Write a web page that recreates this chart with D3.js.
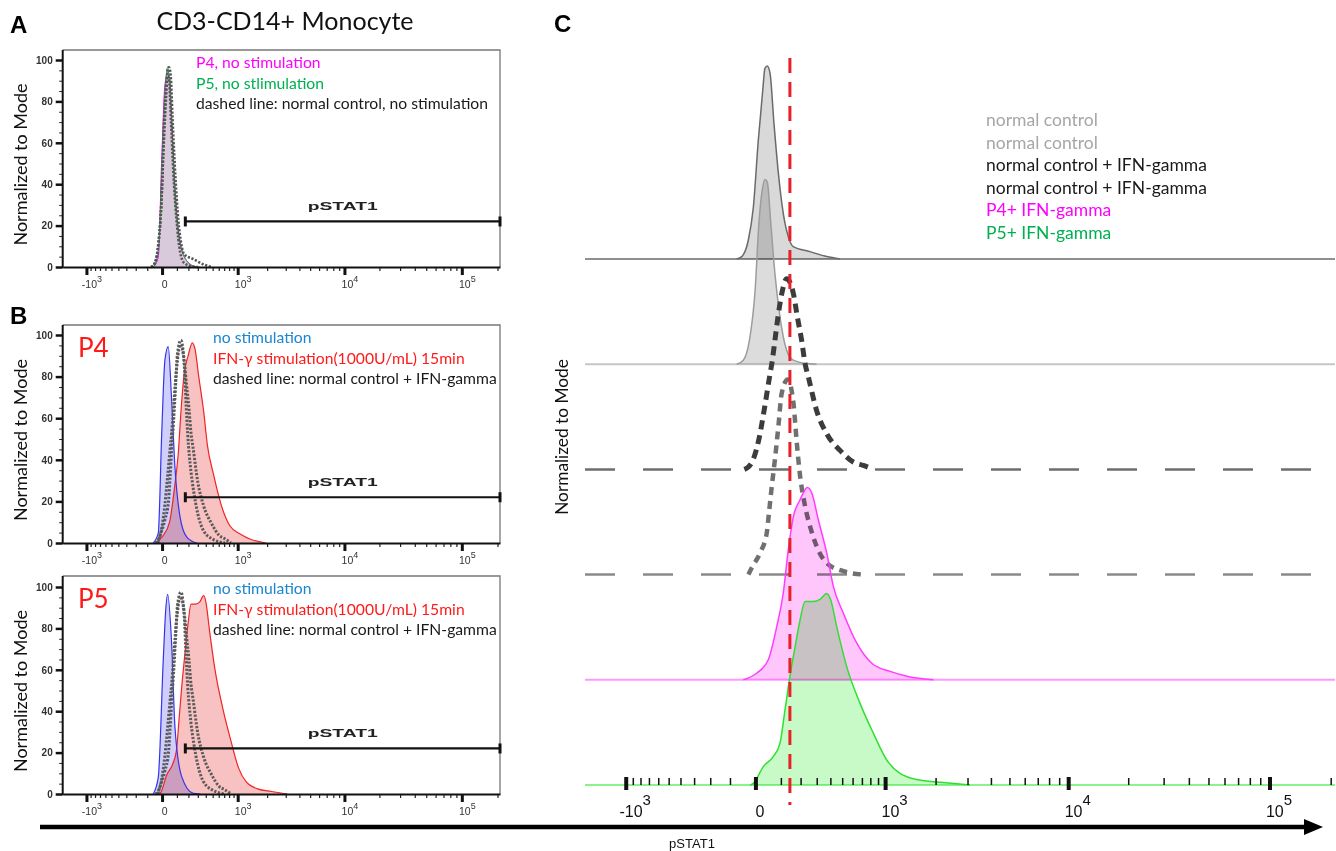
<!DOCTYPE html>
<html>
<head>
<meta charset="utf-8">
<script src="https://cdn.jsdelivr.net/npm/d3@7"></script>
<style>
  body { margin: 0; background: #fff; }
  svg { display: block; }
</style>
</head>
<body>
<svg width="1336" height="851"></svg>
<script>
// ---- data: histogram curves, x = pSTAT1 intensity, y = % of mode ----
const ncUnstim1X = [-71, -50, -25, -7, 10, 26, 34, 43, 54, 70, 89, 111, 135, 160, 256, 372, 481]
const ncUnstim1Y = [0, 1.2, 9.5, 26, 59.5, 84.5, 95.3, 96.5, 92.8, 67.8, 42.8, 22.8, 11.2, 6.2, 3.7, 1.2, 0]

const ncUnstim2X = [-71, -44, -21, -1, 12, 24, 34, 43, 57, 74, 96, 127, 160, 236, 299]
const ncUnstim2Y = [0, 2, 12, 37, 70.3, 87, 92.3, 91.2, 70.3, 45.3, 23.7, 7, 2, 0.3, 0]

const ncIfn1X = [-40, -25, -9, 16, 31, 54, 61, 74, 89, 104, 127, 161, 182, 206, 226, 246, 299, 372, 481, 607, 716, 840]
const ncIfn1Y = [0, 1.2, 4.5, 17.8, 29.5, 47.8, 52.8, 64.5, 77.8, 87.8, 95.3, 87.8, 76.2, 64.5, 52.8, 46.2, 29.5, 17.8, 9.5, 3.7, 2, 0]

const ncIfn2X = [-25, -13, 16, 41, 51, 61, 74, 89, 104, 132, 161, 179, 193, 226, 256, 299, 372, 511, 716]
const ncIfn2Y = [0, 3.3, 10.8, 20.8, 32.5, 44.2, 57.5, 74.2, 90.8, 97.5, 85.8, 65.8, 52.5, 34.2, 24.2, 14.2, 5.8, 1.7, 0]

const p4IfnX = [-44, 4, 47, 82, 111, 135, 161, 197, 240, 268, 311, 372, 424, 511, 644, 817, 1075, 1383, 1944]
const p4IfnY = [0, 3.3, 10, 26.7, 43.3, 65, 81.7, 90, 96.2, 93.3, 80, 63.3, 46.7, 33.3, 18.3, 8.3, 4.2, 1.7, 0]

const p5IfnX = [-18, -7, 28, 67, 96, 119, 143, 170, 197, 226, 278, 323, 372, 403, 452, 542, 679, 839, 1024, 1237, 1610, 2208, 3098]
const p5IfnY = [0, 0.8, 9.2, 14.2, 20.8, 37.5, 54.2, 69.2, 82.5, 91.7, 91.7, 92.8, 95.8, 92.5, 79.2, 59.2, 40.8, 25.8, 12.5, 5.8, 2.5, 1.2, 0]

const p4UnstimX = [-56, -23, -2, 17, 38, 61, 85, 125, 183, 287]
const p4UnstimY = [0, 4.7, 52.7, 88, 94.4, 68.8, 36.7, 12.6, 3, 0]

const p5UnstimX = [-56, -23, 7, 22, 34, 61, 85, 139, 249, 330]
const p5UnstimY = [0, 8, 64.7, 88.9, 96.5, 72.8, 32.5, 8.4, 0.3, 0]

// gate / threshold
const gateStart = 171
const gateEnd = 210000
const gateLevel = 22
const thresholdValue = 143

// axes
const xDomain = [-1760, 210000]
const majorTicks = [-1000, 0, 1000, 10000, 100000]
const majorBase = ['-10', '0', '10', '10', '10']
const majorExp = ['3', '', '3', '4', '5']
const minorTicks = [-900, -800, -700, -600, -500, -400, -300, -200, -100, 100, 200, 300, 400, 500, 600, 700, 800, 900,
  2000, 3000, 4000, 5000, 6000, 7000, 8000, 9000, 20000, 30000, 40000, 50000, 60000, 70000, 80000, 90000, 200000]
const yMajor = [0, 20, 40, 60, 80, 100]
const yMinor = [5, 10, 15, 25, 30, 35, 45, 50, 55, 65, 70, 75, 85, 90, 95]

// legends
const legendAText = ['P4, no stimulation', 'P5, no stlimulation', 'dashed line: normal control, no stimulation']
const legendAColor = ['#ff00ff', '#00b050', '#1a1a1a']
const legendBText = ['no stimulation', 'IFN-γ stimulation(1000U/mL) 15min', 'dashed line: normal control + IFN-gamma']
const legendBColor = ['#1a86d0', '#ff1a1a', '#1a1a1a']
const legendCText = ['normal control', 'normal control', 'normal control + IFN-gamma', 'normal control + IFN-gamma', 'P4+ IFN-gamma', 'P5+ IFN-gamma']
const legendCColor = ['#a6a6a6', '#a6a6a6', '#1a1a1a', '#1a1a1a', '#ff00ff', '#00b050']

const pts = (xs, ys) => xs.map((v, i) => [v, ys[i]])
const ncUnstim1 = pts(ncUnstim1X, ncUnstim1Y)
const ncUnstim2 = pts(ncUnstim2X, ncUnstim2Y)
const ncIfn1 = pts(ncIfn1X, ncIfn1Y)
const ncIfn2 = pts(ncIfn2X, ncIfn2Y)
const p4Ifn = pts(p4IfnX, p4IfnY)
const p5Ifn = pts(p5IfnX, p5IfnY)
const p4Unstim = pts(p4UnstimX, p4UnstimY)
const p5Unstim = pts(p5UnstimX, p5UnstimY)

const sans = 'Lato, "Open Sans", sans-serif'
const arial = '"Liberation Sans", Arial, sans-serif'

const svg = d3.select('svg')
const makeX = range => d3.scaleSymlog().constant(300).domain(xDomain).range(range)

// ---------------- left panels ----------------
const dots = '2.2,1.6'
const leftPanels = [
  {
    top: 50, y0: 267, y100: 60, legendX: 196, legend: legendAText, legendColor: legendAColor, sample: null,
    curves: [
      { d: p4Unstim, fill: '#d8cadb', stroke: '#ff00ff', w: 1 },
      { d: p5Unstim, fill: 'none', stroke: '#20c040', w: 1 },
      { d: ncUnstim1, fill: 'none', stroke: '#555', w: 2.6, dash: dots },
      { d: ncUnstim2, fill: 'none', stroke: '#555', w: 2.6, dash: dots }
    ]
  },
  {
    top: 325, y0: 543, y100: 335, legendX: 213, legend: legendBText, legendColor: legendBColor, sample: 'P4',
    curves: [
      { d: p4Ifn, fill: '#f9c2c2', stroke: '#f02424', w: 1.2 },
      { d: p4Unstim, fill: '#d0cefa', stroke: '#3434ea', w: 1.2 },
      { d: ncIfn1, fill: 'none', stroke: '#5a5a5a', w: 3, dash: dots },
      { d: ncIfn2, fill: 'none', stroke: '#5a5a5a', w: 3, dash: dots }
    ]
  },
  {
    top: 576, y0: 794, y100: 587, legendX: 213, legend: legendBText, legendColor: legendBColor, sample: 'P5',
    curves: [
      { d: p5Ifn, fill: '#f9c2c2', stroke: '#f02424', w: 1.2 },
      { d: p5Unstim, fill: '#d0cefa', stroke: '#3434ea', w: 1.2 },
      { d: ncIfn1, fill: 'none', stroke: '#5a5a5a', w: 3, dash: dots },
      { d: ncIfn2, fill: 'none', stroke: '#5a5a5a', w: 3, dash: dots }
    ]
  }
]

const xL = makeX([62.7, 500])

leftPanels.forEach(p => {
  const y = d3.scaleLinear().domain([0, 100]).range([p.y0, p.y100])
  const g = svg.append('g')

  // frame
  g.append('path')
    .attr('d', `M62.7,${p.top}H500V${p.y0}`)
    .attr('fill', 'none').attr('stroke', '#777').attr('stroke-width', 1.3)

  const area = d3.area().x(d => xL(d[0])).y0(y(0)).y1(d => y(d[1])).curve(d3.curveMonotoneX)
  const line = d3.line().x(d => xL(d[0])).y(d => y(d[1])).curve(d3.curveMonotoneX)

  p.curves.forEach(c => {
    if (c.fill !== 'none') {
      g.append('path').attr('d', area(c.d)).attr('fill', c.fill).style('mix-blend-mode', 'multiply')
    }
  })
  p.curves.forEach(c => {
    g.append('path').attr('d', line(c.d))
      .attr('fill', 'none').attr('stroke', c.stroke).attr('stroke-width', c.w)
      .attr('stroke-dasharray', c.dash || null)
  })

  // gate bar
  const gy = y(gateLevel)
  g.append('line').attr('x1', xL(gateStart)).attr('x2', xL(gateEnd)).attr('y1', gy).attr('y2', gy)
    .attr('stroke', '#111').attr('stroke-width', 2.2)
  ;[gateStart, gateEnd].forEach(v => {
    g.append('line').attr('x1', xL(v)).attr('x2', xL(v)).attr('y1', gy - 5).attr('y2', gy + 5)
      .attr('stroke', '#111').attr('stroke-width', 3)
  })
  g.append('text').attr('x', (xL(gateStart) + xL(gateEnd)) / 2).attr('y', gy - 11)
    .attr('text-anchor', 'middle').attr('font-family', arial).attr('font-size', 10.5).attr('font-weight', 'bold')
    .attr('fill', '#222').attr('textLength', 70).attr('lengthAdjust', 'spacingAndGlyphs').text('pSTAT1')

  // x axis
  const gxMinor = g.append('g').attr('transform', `translate(0,${p.y0})`)
    .call(d3.axisBottom(xL).tickValues(minorTicks).tickSize(4).tickFormat(''))
  gxMinor.select('.domain').remove()
  gxMinor.selectAll('line').attr('stroke', '#222').attr('stroke-width', 1.2)

  const gx = g.append('g').attr('transform', `translate(0,${p.y0})`)
    .call(d3.axisBottom(xL).tickValues(majorTicks).tickSize(8).tickSizeOuter(0))
  gx.select('.domain').attr('stroke', '#111').attr('stroke-width', 2)
  gx.selectAll('.tick line').attr('stroke', '#111').attr('stroke-width', 3)
  gx.selectAll('.tick text').each(function (d, i) {
    const t = d3.select(this)
    t.text(null).attr('y', 21).attr('dy', null).attr('dx', d === 0 ? 2 : 5)
      .attr('font-family', arial).attr('font-size', 10.5).attr('fill', '#333')
    t.append('tspan').text(majorBase[i])
    if (majorExp[i]) t.append('tspan').attr('dy', -6).attr('font-size', 9).text(majorExp[i])
  })

  // y axis
  const gyMinor = g.append('g').attr('transform', 'translate(62.7,0)')
    .call(d3.axisLeft(y).tickValues(yMinor).tickSize(3.5).tickFormat(''))
  gyMinor.select('.domain').remove()
  gyMinor.selectAll('line').attr('stroke', '#222').attr('stroke-width', 1)

  const gyA = g.append('g').attr('transform', 'translate(62.7,0)')
    .call(d3.axisLeft(y).tickValues(yMajor).tickSize(7).tickPadding(3))
  gyA.select('.domain').remove()
  gyA.selectAll('.tick line').attr('stroke', '#111').attr('stroke-width', 2.5)
  gyA.selectAll('.tick text').attr('font-family', arial).attr('font-size', 10)
    .attr('font-weight', 'bold').attr('fill', '#333')
  g.append('line').attr('x1', 62.7).attr('x2', 62.7).attr('y1', p.top).attr('y2', p.y0 + 1)
    .attr('stroke', '#111').attr('stroke-width', 2)

  g.append('text').attr('transform', `translate(27,${(p.top + p.y0) / 2 + 6}) rotate(-90)`)
    .attr('text-anchor', 'middle').attr('font-family', sans).attr('font-size', 18).attr('fill', '#111')
    .text('Normalized to Mode')

  // legend
  p.legend.forEach((t, i) => {
    g.append('text').attr('x', p.legendX).attr('y', p.top + 18 + i * 20.5)
      .attr('font-family', sans).attr('font-size', 15.7).attr('fill', p.legendColor[i]).text(t)
  })

  if (p.sample) {
    g.append('text').attr('x', 78).attr('y', p.top + 32).attr('font-family', sans)
      .attr('font-size', 26).attr('fill', '#ff1a1a').text(p.sample)
  }
})

// titles
svg.append('text').attr('x', 10).attr('y', 33).attr('font-family', arial).attr('font-weight', 'bold')
  .attr('font-size', 24).text('A')
svg.append('text').attr('x', 10).attr('y', 324).attr('font-family', arial).attr('font-weight', 'bold')
  .attr('font-size', 24).text('B')
svg.append('text').attr('x', 554).attr('y', 32).attr('font-family', arial).attr('font-weight', 'bold')
  .attr('font-size', 24).text('C')
svg.append('text').attr('x', 285).attr('y', 30).attr('text-anchor', 'middle').attr('font-family', sans)
  .attr('font-size', 25).attr('fill', '#111').text('CD3-CD14+ Monocyte')

// ---------------- right panel (C) ----------------
const xC = makeX([585, 1335])
const rowY = d3.scaleLinear().domain([0, 5]).range([259, 785])
const hC = d3.scaleLinear().domain([0, 100]).range([0, 200])

const rows = [
  { d: ncUnstim1, fill: '#d9d9d9', stroke: '#6a6a6a', w: 1.5, base: '#8f8f8f', baseW: 2 },
  { d: ncUnstim2, fill: '#dcdcdc', stroke: '#9c9c9c', w: 1.5, base: '#c6c6c6', baseW: 2 },
  { d: ncIfn1, fill: 'none', stroke: '#3c3c3c', w: 5, dash: '9,6', base: '#6e6e6e', baseW: 2.5, baseDash: '30,28' },
  { d: ncIfn2, fill: 'none', stroke: '#707070', w: 4.5, dash: '8,6', base: '#8a8a8a', baseW: 2.5, baseDash: '30,28' },
  { d: p4Ifn, fill: '#ffc6fc', stroke: '#ff3cff', w: 1.5, base: '#ff99ff', baseW: 2 },
  { d: p5Ifn, fill: '#c8fac8', stroke: '#30e030', w: 1.5, base: '#66ee66', baseW: 1.5 }
]

const gc = svg.append('g')
rows.forEach((r, i) => {
  const b = rowY(i)
  gc.append('line').attr('x1', xC.range()[0]).attr('x2', xC.range()[1]).attr('y1', b).attr('y2', b)
    .attr('stroke', r.base).attr('stroke-width', r.baseW).attr('stroke-dasharray', r.baseDash || null)
})
rows.forEach((r, i) => {
  const b = rowY(i)
  const area = d3.area().x(d => xC(d[0])).y0(b).y1(d => b - hC(d[1])).curve(d3.curveMonotoneX)
  const line = d3.line().x(d => xC(d[0])).y(d => b - hC(d[1])).curve(d3.curveMonotoneX)
  if (r.fill !== 'none') {
    gc.append('path').attr('d', area(r.d)).attr('fill', r.fill).style('mix-blend-mode', 'multiply')
  }
  gc.append('path').attr('d', line(r.d)).attr('fill', 'none').attr('stroke', r.stroke)
    .attr('stroke-width', r.w).attr('stroke-dasharray', r.dash || null)
})

// right x axis on the last baseline
const axY = rowY(5)
const gcMinor = gc.append('g').attr('transform', `translate(0,${axY})`)
  .call(d3.axisTop(xC).tickValues(minorTicks).tickSize(7).tickFormat(''))
gcMinor.select('.domain').remove()
gcMinor.selectAll('line').attr('stroke', '#111').attr('stroke-width', 1.5)

const gcMajor = gc.append('g').attr('transform', `translate(0,${axY})`)
  .call(d3.axisTop(xC).tickValues(majorTicks).tickSize(8).tickFormat(''))
gcMajor.select('.domain').remove()
gcMajor.selectAll('line').attr('y1', 5).attr('stroke', '#111').attr('stroke-width', 4)

const gcLab = gc.append('g').attr('transform', `translate(0,${axY})`)
  .call(d3.axisBottom(xC).tickValues(majorTicks).tickSize(0))
gcLab.select('.domain').remove()
gcLab.selectAll('.tick text').each(function (d, i) {
  const t = d3.select(this)
  t.text(null).attr('y', 32).attr('dy', null).attr('dx', d === 0 ? 4 : 9)
    .attr('font-family', arial).attr('font-size', 16).attr('fill', '#111')
  t.append('tspan').text(majorBase[i])
  if (majorExp[i]) t.append('tspan').attr('dy', -12).attr('font-size', 15).text(majorExp[i])
})

// threshold
gc.append('line').attr('x1', xC(thresholdValue)).attr('x2', xC(thresholdValue)).attr('y1', 58).attr('y2', 805)
  .attr('stroke', '#e8202a').attr('stroke-width', 3).attr('stroke-dasharray', '15,9')

gc.append('text').attr('transform', 'translate(568,437) rotate(-90)').attr('text-anchor', 'middle')
  .attr('font-family', sans).attr('font-size', 17.3).attr('fill', '#111').text('Normalized to Mode')

legendCText.forEach((t, i) => {
  gc.append('text').attr('x', 986).attr('y', 126 + i * 22.6).attr('font-family', sans)
    .attr('font-size', 17.5).attr('fill', legendCColor[i]).text(t)
})

// bottom arrow
svg.append('line').attr('x1', 40).attr('x2', 1308).attr('y1', 827).attr('y2', 827)
  .attr('stroke', '#000').attr('stroke-width', 4.5)
svg.append('path').attr('d', 'M1304,819L1323,827L1304,835Z').attr('fill', '#000')
svg.append('text').attr('x', 692).attr('y', 848).attr('text-anchor', 'middle').attr('font-family', arial)
  .attr('font-size', 13).attr('fill', '#111').text('pSTAT1')
</script>
</body>
</html>
